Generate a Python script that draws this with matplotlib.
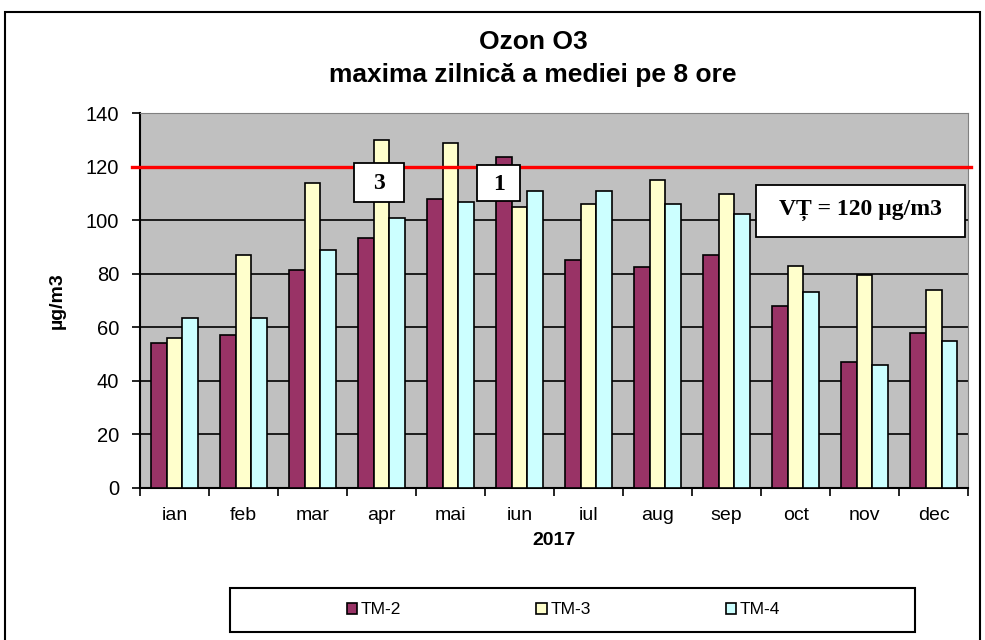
import numpy as np
import matplotlib
matplotlib.use("Agg")
import matplotlib.pyplot as plt
from matplotlib.patches import Rectangle

plt.rcParams['font.family'] = ['Liberation Sans', 'DejaVu Sans']

# date
luni = ['ian', 'feb', 'mar', 'apr', 'mai', 'iun', 'iul', 'aug', 'sep', 'oct', 'nov', 'dec']
tm2 = [54, 57, 81.5, 93.5, 108, 123.5, 85, 82.5, 87, 68, 47, 58]
tm3 = [56, 87, 114, 130, 129, 105, 106, 115, 110, 83, 79.5, 74]
tm4 = [63.5, 63.5, 89, 101, 107, 111, 111, 106, 102.5, 73, 46, 55]
valoare_tinta = 120

fig = plt.figure(figsize=(9.85, 6.4), dpi=100)
ax = fig.add_axes([0.142, 0.238, 0.841, 0.585])
ax.set_facecolor('#C0C0C0')

x = np.arange(len(luni))
w = 0.225
kw = dict(width=w, edgecolor='black', linewidth=1.2, zorder=3)
b2 = ax.bar(x - w, tm2, color='#993366', label='TM-2', **kw)
b3 = ax.bar(x, tm3, color='#FFFFCC', label='TM-3', **kw)
b4 = ax.bar(x + w, tm4, color='#CCFFFF', label='TM-4', **kw)

ax.axhline(valoare_tinta, xmin=-0.009, xmax=1.003, color='red', linewidth=2.4,
           zorder=4, clip_on=False)

ax.set_xlim(-0.5, len(luni) - 0.5)
ax.set_ylim(0, 140)
ax.set_yticks(range(0, 141, 20))
ax.set_xticks(x)
ax.set_xticklabels(luni, fontsize=14)
ax.set_xticks(np.arange(-0.5, len(luni)), minor=True)
ax.tick_params(axis='x', which='major', length=0, pad=14)
ax.tick_params(axis='x', which='minor', length=6, width=1.2, direction='out')
ax.tick_params(axis='y', labelsize=14.5, length=6, width=1.2, direction='out', pad=9)
ax.yaxis.grid(True, color='black', linewidth=1.2, zorder=0)
ax.set_axisbelow(True)

for s in ['top', 'right']:
    ax.spines[s].set_color('#808080')
for s in ['left', 'bottom']:
    ax.spines[s].set_linewidth(1.5)

ax.set_xlabel('2017', fontsize=14, fontweight='bold', labelpad=6)
ax.set_ylabel('µg/m3', fontsize=14, fontweight='bold', labelpad=14)

fig.text(0.541, 0.934, 'Ozon O3', fontsize=19, fontweight='bold', ha='center', va='center')
fig.text(0.541, 0.883, 'maxima zilnică a mediei pe 8 ore', fontsize=19,
         fontweight='bold', ha='center', va='center')

# numar de depasiri si valoarea tinta
serif = dict(family='Liberation Serif', fontweight='bold', ha='center', va='center', zorder=7)
for (x0, y0, x1, y1) in [(2.60, 106.8, 3.32, 121.4), (4.39, 107.1, 5.01, 120.7),
                         (8.43, 93.7, 11.45, 113.1)]:
    ax.add_patch(Rectangle((x0, y0), x1 - x0, y1 - y0, facecolor='white',
                           edgecolor='black', linewidth=1.3, zorder=6))
ax.text(2.96, 113.8, '3', fontsize=17, **serif)
ax.text(4.70, 113.3, '1', fontsize=17, **serif)
ax.text(9.94, 103.6, 'VȚ = 120 µg/m3', fontsize=17, **serif)

leg = fig.legend(handles=[b2, b3, b4], loc='center', bbox_to_anchor=(0.572, 0.047),
                 ncol=3, fontsize=12.5, frameon=False,
                 handlelength=0.6, handleheight=0.6, handletextpad=0.2, columnspacing=7.8)

# chenar legenda si chenar exterior
fig.patches.append(Rectangle((0.2335, 0.0125), 0.6955, 0.0685, transform=fig.transFigure,
                             fill=False, edgecolor='black', linewidth=1.5))
fig.patches.append(Rectangle((0.005, -0.05), 0.99, 1.032, transform=fig.transFigure,
                             fill=False, edgecolor='black', linewidth=1.5))

fig.savefig('out.png', dpi=100)
